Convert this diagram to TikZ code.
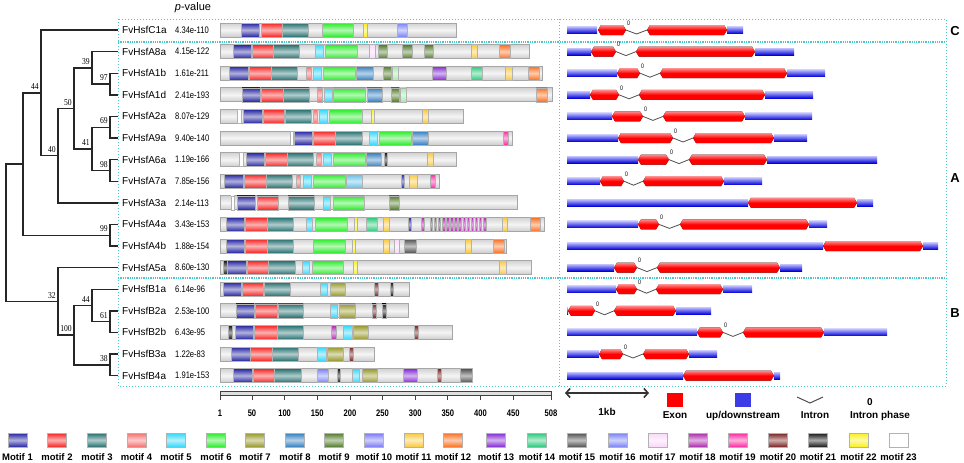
\documentclass[tikz,border=0pt]{standalone}
\usepackage{fontspec}
\setmainfont{Liberation Sans}
\newfontfamily\bootfont[FakeStretch=0.85]{Liberation Serif}
\newfontfamily\narrowfont[FakeStretch=0.8]{Liberation Sans}
\usetikzlibrary{arrows.meta}

\definecolor{m1}{RGB}{35,35,160}
\definecolor{m2}{RGB}{245,35,35}
\definecolor{m3}{RGB}{35,110,110}
\definecolor{m4}{RGB}{245,110,110}
\definecolor{m5}{RGB}{50,215,250}
\definecolor{m6}{RGB}{40,235,40}
\definecolor{m7}{RGB}{150,150,40}
\definecolor{m8}{RGB}{50,125,190}
\definecolor{m9}{RGB}{80,120,40}
\definecolor{m10}{RGB}{120,120,245}
\definecolor{m11}{RGB}{250,200,60}
\definecolor{m12}{RGB}{250,110,30}
\definecolor{m13}{RGB}{130,40,210}
\definecolor{m14}{RGB}{40,200,120}
\definecolor{m15}{RGB}{80,80,80}
\definecolor{m16}{RGB}{120,130,245}
\definecolor{m17}{RGB}{250,215,250}
\definecolor{m18}{RGB}{170,40,170}
\definecolor{m19}{RGB}{250,40,160}
\definecolor{m20}{RGB}{120,30,30}
\definecolor{m21}{RGB}{20,20,20}
\definecolor{m22}{RGB}{250,240,20}
\definecolor{m23}{RGB}{255,255,255}
\definecolor{m14l}{RGB}{160,235,170}
\definecolor{m8l}{RGB}{100,190,230}
\definecolor{boxcyan}{RGB}{70,200,205}
\definecolor{utrblue}{RGB}{60,60,230}

% one row of protein motifs: y, length, list of start/end/colour
\newcommand{\motifrow}[3]{%
  \draw[bar] (220,#1-7) rectangle (#2,#1+7);
  \foreach \a/\b/\c in {#3} \draw[mot=\c] (\a,#1-7) rectangle (\b,#1+7);
}

\begin{document}
\begin{tikzpicture}[x=1pt, y=-1pt,
  branch/.style={line width=1.4pt, black!85},
  gname/.style={anchor=west, inner sep=4pt, font=\fontsize{10}{10}\selectfont},
  pval/.style={anchor=west, inner sep=2pt, font=\narrowfont\fontsize{9.5}{10}\selectfont},
  boot/.style={anchor=south east, inner sep=1pt, xshift=-1pt, yshift=2pt, font=\bootfont\fontsize{9}{9}\selectfont},
  bar/.style={draw=gray!70, line width=0.7pt, top color=gray!35, bottom color=gray!40, middle color=gray!8},
  mot/.style={draw=gray!60, line width=0.5pt, top color=#1, bottom color=#1, middle color=#1!35},
  utr/.style={top color=blue!25, bottom color=blue!85!black},
  exon/.style={top color=red!45, bottom color=red, middle color=red},
  intr/.style={line width=0.8pt, black!70},
  phase/.style={inner sep=0pt, font=\narrowfont\fontsize{6.5}{6.5}\selectfont},
  frame/.style={boxcyan, dotted, line width=1pt},
  sep/.style={boxcyan, densely dotted, line width=1.3pt},
  legt/.style={inner sep=1pt, font=\bfseries\fontsize{10}{10}\selectfont},
  tickl/.style={inner sep=1pt, font=\narrowfont\bfseries\fontsize{9.5}{10}\selectfont},
  grp/.style={inner sep=1pt, font=\bfseries\fontsize{13}{13}\selectfont}]
\useasboundingbox (0,0) rectangle (964,463);

% frames
\draw[frame] (118,19) rectangle (946,386);
\draw[frame] (559,19) -- (559,386);
\draw[sep] (118,42) -- (946,42);
\draw[sep] (118,278) -- (946,278);
\node[inner sep=1pt, font=\fontsize{11}{11}\selectfont] (pv) at (193,8) {\textit{p}-value};

% gene names and p-values
\foreach \n/\p [count=\i from 0] in {C1a/4.34e-110, A8a/4.15e-122, A1b/1.61e-211, A1d/2.41e-193,
  A2a/8.07e-129, A9a/9.40e-140, A6a/1.19e-166, A7a/7.85e-156, A3a/2.14e-113, A4a/3.43e-153,
  A4b/1.88e-154, A5a/8.60e-130, B1a/6.14e-96, B2a/2.53e-100, B2b/6.43e-95, B3a/1.22e-83, B4a/1.91e-153}
{
  \node[gname] (\n) at (118,30+21.6*\i) {FvHsf\n};
  \node[pval] (p\n) at (173,30+21.6*\i) {\p};
}

% tree
\coordinate (n1) at (110,84);
\coordinate (n2) at (92,67.8);
\coordinate (n3) at (110,127.2);
\coordinate (n4) at (110,170.4);
\coordinate (n5) at (92,148.8);
\coordinate (n6) at (74,108.3);
\coordinate (n7) at (58,155.55);
\coordinate (n8) at (41,92.8);
\coordinate (n9) at (110,235.2);
\coordinate (n10) at (23,164);
\coordinate (n11) at (110,321.6);
\coordinate (n12) at (92,305.4);
\coordinate (n13) at (110,364.8);
\coordinate (n14) at (74,335.1);
\coordinate (n15) at (58,301.35);
\coordinate (root) at (6,232.7);
\foreach \a/\b in {n1/A1b.west, n1/A1d.west, n2/A8a.west, n2/n1, n3/A2a.west, n3/A9a.west,
  n4/A6a.west, n4/A7a.west, n5/n3, n5/n4, n6/n2, n6/n5, n7/n6, n7/A3a.west, n8/C1a.west, n8/n7,
  n9/A4a.west, n9/A4b.west, n10/n8, n10/n9, n11/B2a.west, n11/B2b.west, n12/B1a.west, n12/n11,
  n13/B3a.west, n13/B4a.west, n14/n12, n14/n13, n15/A5a.west, n15/n14, root/n10, root/n15}
  \draw[branch] (\a) |- (\b);
% bootstrap values
\foreach \n/\v in {n8/44, n7/40, n6/50, n2/39, n1/97, n5/41, n3/69, n4/98, n9/99,
  n15/32, n14/100, n12/44, n11/61, n13/38}
  \node[boot] (b\n) at (\n) {\v};

% motifs
\motifrow{30}{456}{241/259/m1, 261/282/m2, 282/308/m3, 322/353/m6, 363/367/m22, 397/407/m16}
\motifrow{51.6}{529}{233/251/m1, 252/273/m2, 273/299/m3, 315/323/m5, 325/357/m6, 369/375/m17, 378/387/m9, 402/412/m9, 424/433/m9, 471/477/m11, 499/510/m12}
\motifrow{73.2}{542}{229/248/m1, 249/271/m2, 271/297/m3, 306/311/m4, 313/321/m5, 323/355/m6, 356/373/m8, 383/391/m9, 392/398/m14l, 432/446/m13, 471/482/m14, 505/512/m11, 528/539/m12}
\motifrow{94.8}{552}{242/260/m1, 261/283/m2, 283/309/m3, 317/322/m4, 324/332/m5, 333/365/m6, 367/382/m8, 391/399/m9, 400/406/m14l, 536/547/m12}
\motifrow{116.4}{463}{237/241/m23, 243/262/m1, 263/284/m2, 285/311/m3, 313/317/m4, 319/327/m5, 329/362/m6, 371/374/m22, 422/428/m11}
\motifrow{138}{512}{290/293/m23, 294/312/m1, 313/335/m2, 335/362/m3, 369/377/m5, 379/411/m6, 412/428/m8, 503/508/m19}
\motifrow{159.6}{456}{239/243/m23, 246/264/m1, 265/287/m2, 287/313/m3, 316/321/m4, 323/331/m5, 333/365/m6, 366/381/m8, 384/387/m21, 427/433/m11}
\motifrow{181.2}{439}{224/243/m1, 244/266/m2, 266/292/m3, 296/300/m4, 303/311/m5, 313/345/m6, 346/362/m8l, 401/404/m1, 409/417/m11, 430/435/m19}
\motifrow{202.8}{517}{231/234/m23, 237/255/m1, 257/278/m2, 288/314/m3, 323/330/m5, 333/364/m6, 389/399/m9}
\motifrow{224.4}{544}{226/244/m1, 245/267/m2, 267/293/m3, 306/312/m5, 315/347/m6, 354/357/m22, 366/377/m14, 383/389/m11, 408/411/m1, 421/424/m18, 502/507/m11, 530/540/m12}
\foreach \s in {0,...,13} \draw[mot=m18] (430+4.1*\s,217.4) rectangle (432.5+4.1*\s,231.4);
\motifrow{246}{506}{226/244/m1, 245/267/m2, 267/293/m3, 313/345/m6, 352/355/m22, 383/389/m11, 394/399/m17, 404/416/m15, 465/471/m11, 493/504/m12}
\motifrow{267.6}{531}{223/227/m21, 227/246/m1, 247/268/m2, 268/295/m3, 302/309/m5, 312/343/m6, 353/357/m22, 499/506/m11}
\motifrow{289.2}{409}{223/241/m1, 242/263/m2, 264/290/m3, 320/327/m5, 330/345/m7, 374/378/m20, 390/393/m21}
\motifrow{310.8}{408}{236/254/m1, 255/277/m2, 278/303/m3, 330/337/m5, 339/355/m7, 372/376/m20, 382/386/m21}
\motifrow{332.4}{452}{228/232/m21, 235/253/m1, 254/277/m2, 277/303/m3, 331/336/m18, 343/352/m5, 353/368/m7, 414/418/m20}
\motifrow{354}{374}{231/250/m1, 250/272/m2, 272/298/m3, 317/326/m5, 327/343/m7, 349/353/m20}
\motifrow{375.6}{472}{233/252/m1, 253/274/m2, 274/301/m3, 317/328/m16, 337/340/m21, 352/359/m5, 362/377/m7, 403/417/m13, 437/441/m20, 460/472/m15}

% gene structures: UTRs
\foreach \y/\a/\b in {30/567/597, 30/727/743, 51.6/567/591, 51.6/755/794, 73.2/567/617, 73.2/787/825,
  94.8/567/590, 94.8/765/813, 116.4/567/612, 116.4/745/812, 138/567/618, 138/774/807,
  159.6/567/638, 159.6/767/877, 181.2/567/600, 181.2/724/762, 202.8/567/748, 202.8/857/873,
  224.4/567/638, 224.4/809/827, 246/567/823, 246/923/938, 267.6/567/614, 267.6/780/802,
  289.2/567/616, 289.2/723/752, 310.8/567/568, 310.8/676/711, 332.4/567/697, 332.4/824/887,
  354/567/599, 354/689/717, 375.6/567/683, 375.6/774/780}
  \fill[utr] (\a,\y-3.5) rectangle (\b,\y+3.5);
% exons
\foreach \y/\a/\b in {30/598/626, 30/647/727, 51.6/591/616, 51.6/636/755, 73.2/617/640, 73.2/660/787,
  94.8/590/619, 94.8/639/765, 116.4/612/643, 116.4/663/745, 138/618/673, 138/693/774,
  159.6/638/669, 159.6/689/767, 181.2/600/624, 181.2/643/724, 202.8/748/857, 224.4/638/659,
  224.4/680/809, 246/823/923, 267.6/614/637, 267.6/657/780, 289.2/616/637, 289.2/656/723,
  310.8/568/595, 310.8/614/676, 332.4/697/723, 332.4/743/824, 354/599/623, 354/643/689, 375.6/683/774}
  \fill[exon] (\a,\y) -- (\a+3,\y-5) -- (\b-3,\y-5) -- (\b,\y) -- (\b-3,\y+5) -- (\a+3,\y+5) -- cycle;
% introns
\foreach \n/\y/\a/\b in {C1a/30/626/647, A8a/51.6/616/636, A1b/73.2/640/660, A1d/94.8/619/639,
  A2a/116.4/643/663, A9a/138/673/693, A6a/159.6/669/689, A7a/181.2/624/643, A4a/224.4/659/680,
  A5a/267.6/637/657, B1a/289.2/637/656, B2a/310.8/595/614, B2b/332.4/723/743, B3a/354/623/643}
{
  \draw[intr] (\a,\y) -- ({(\a+\b)/2},\y+4) -- (\b,\y);
  \node[phase] (ph\n) at (\a+2.5,\y-7) {0};
}

% groups
\node[grp] (grpC) at (955,31) {C};
\node[grp] (grpA) at (955,178) {A};
\node[grp] (grpB) at (955,313) {B};

% scale bar
\draw[gray!50!black, fill=gray!25, line width=0.8pt] (220,391.5) rectangle (551,395.5);
\foreach \v [count=\i, evaluate=\v as \sx using 220+(\v-1)*0.65286] in {1,50,100,150,200,250,300,350,400,450,508}
{
  \draw[gray!50!black, line width=0.8pt] (\sx,395.5) -- (\sx,400);
  \node[tickl] (s\i) at (\sx,413) {\v};
}

% legend of gene structure
\coordinate (kbL) at (565,393);
\coordinate (kbR) at (649,393);
\draw[gray!40!black, line width=1.6pt, {Straight Barb[length=4pt,width=9pt]}-{Straight Barb[length=4pt,width=9pt]}] (kbL) -- (kbR);
\node[legt] (kb) at (607,412) {1kb};
\node[fill=red, minimum width=16pt, minimum height=14pt, inner sep=0pt] (exsq) at (675,400) {};
\node[legt] (exl) at (675,415.5) {Exon};
\node[fill=utrblue, minimum width=16pt, minimum height=14pt, inner sep=0pt] (usq) at (743,400) {};
\node[legt] (ul) at (743,415.5) {up/downstream};
\draw[intr, line width=1pt] (797,397) -- (810,403) -- (823,397);
\node[legt] (il) at (815,415.5) {Intron};
\node[legt] (ph0) at (870,402) {0};
\node[legt] (phl) at (880,415.5) {Intron phase};

% legend of motifs
\foreach \k/\x/\c/\t in {1/17.5/m1/Motif 1, 2/57/m2/motif 2, 3/97/m3/motif 3, 4/136.5/m4/motif 4,
  5/176/m5/motif 5, 6/216/m6/motif 6, 7/255/m7/motif 7, 8/295/m8/motif 8, 9/334/m9/motif 9,
  10/374/m10/motif 10, 11/413.5/m11/motif 11, 12/453/m12/motif 12, 13/496/m13/motif 13,
  14/537/m14/motif 14, 15/577/m15/motif 15, 16/617.5/m16/motif 16, 17/657.5/m17/motif 17,
  18/697.5/m18/motif 18, 19/737.5/m19/motif 19, 20/778/m20/motif 20, 21/818/m21/motif 21,
  22/858.5/m22/motif 22, 23/898.5/m23/motif 23}
{
  \node[mot=\c, minimum width=19pt, minimum height=14pt, inner sep=0pt, line width=0.8pt] (k\k) at (\x,440) {};
  \node[inner sep=1pt, font=\bfseries\fontsize{9.5}{10}\selectfont] (kl\k) at (\x,457) {\t};
}
\end{tikzpicture}
\end{document}
